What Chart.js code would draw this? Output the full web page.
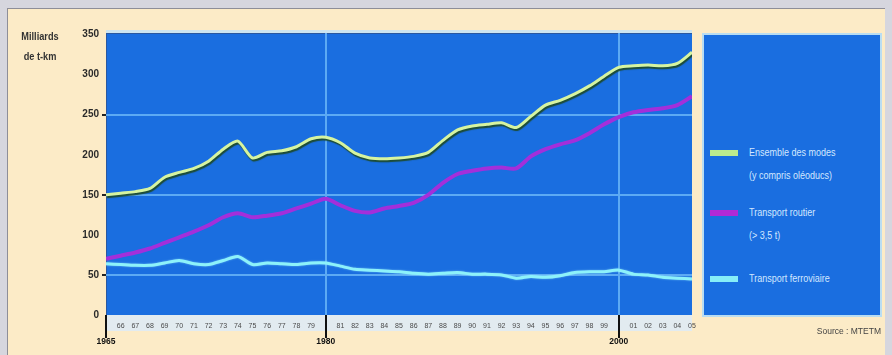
<!DOCTYPE html>
<html><head><meta charset="utf-8">
<script src="https://cdn.jsdelivr.net/npm/chart.js@4/dist/chart.umd.min.js"></script>
<style>
html,body{margin:0;padding:0;background:#D6D6DE;width:892px;height:355px;overflow:hidden;font-family:'Liberation Sans Narrow','Liberation Sans',Arial,sans-serif;}
#panel{position:absolute;left:7px;top:8px;width:877px;height:347px;background:#FCEBC7;border-left:1px solid #8E8E98;border-top:1px solid #8E8E98;}
#c{position:absolute;left:0;top:0;}
#ytitle{position:absolute;left:8px;top:27px;width:64px;text-align:center;font-size:10px;font-weight:bold;color:#333;line-height:20px;transform:scaleX(0.92);}
#legend{position:absolute;left:702px;top:33px;width:176px;height:280px;background:#1A6EE0;border:2px solid #B9DDF2;}
.sw{position:absolute;left:6px;width:28px;height:6px;}
.tx{position:absolute;left:45px;font-size:10px;line-height:23px;color:#D2E8FF;white-space:nowrap;transform:scaleX(0.9);transform-origin:left center;}
#source{position:absolute;left:740px;top:326px;width:141px;text-align:right;font-size:8.5px;color:#444;}
</style></head>
<body>
<div id="panel"></div>
<canvas id="c" width="892" height="355"></canvas>
<div id="ytitle">Milliards<br>de t-km</div>
<div id="legend">
  <div class="sw" style="top:115px;background:#BCEB8E;"></div>
  <div class="tx" style="top:106px;">Ensemble des modes<br>(y compris oléoducs)</div>
  <div class="sw" style="top:175px;background:#B02AD6;"></div>
  <div class="tx" style="top:166px;">Transport routier<br>(&gt; 3,5 t)</div>
  <div class="sw" style="top:241px;background:#86EEF8;"></div>
  <div class="tx" style="top:232px;">Transport ferroviaire</div>
</div>
<div id="source">Source : MTETM</div>
<script>
const years = [1965,1966,1967,1968,1969,1970,1971,1972,1973,1974,1975,1976,1977,1978,1979,1980,1981,1982,1983,1984,1985,1986,1987,1988,1989,1990,1991,1992,1993,1994,1995,1996,1997,1998,1999,2000,2001,2002,2003,2004,2005];
const totalValues = [150,152,154,158,172,178,183,192,207,217,196,203,205,210,220,222,215,202,196,195,196,198,203,218,231,236,238,240,234,248,262,268,276,286,298,309,311,312,311,314,328];
const roadValues = [70,74,78,83,90,97,104,112,122,127,122,124,127,133,139,145,137,130,128,133,136,140,150,165,176,180,183,184,183,198,207,213,218,227,238,247,253,256,258,262,273];
const railValues = [64,63,62,62,65,68,64,63,68,73,63,65,64,63,65,65,61,57,56,55,54,52,51,52,53,51,51,50,46,48,47,49,53,54,54,56,51,50,47,46,45];
const seriesNames = ['Ensemble des modes (y compris oléoducs)','Transport routier (> 3,5 t)','Transport ferroviaire'];
const yTicks = [0,50,100,150,200,250,300,350];
const yGridTicks = [50,150,250];
const majorTickYears = [1965,1980,2000];
const xGridYears = [1980,2000];

const BLUE = '#1A6EE0';
const GRID = '#5CAAF4';

const bgPlugin = {
  id: 'bg',
  beforeDraw(chart) {
    const {ctx, chartArea: a} = chart;
    ctx.save();
    ctx.fillStyle = '#CDE5F1';
    ctx.fillRect(a.left, a.top - 3, a.right - a.left, 3);
    ctx.fillStyle = BLUE;
    ctx.fillRect(a.left, a.top, a.right - a.left, a.bottom - a.top);
    ctx.fillStyle = '#2A58A0';
    ctx.fillRect(a.left, a.top, a.right - a.left, 1);
    ctx.fillRect(a.left, a.top, 1, a.bottom - a.top);
    ctx.fillStyle = '#E2EBF0';
    ctx.fillRect(a.left, a.bottom, a.right - a.left, 16);
    ctx.restore();
  },
  afterDraw(chart) {
    const {ctx, chartArea: a} = chart;
    const xs = chart.scales.x;
    ctx.save();
    ctx.fillStyle = '#111';
    majorTickYears.forEach(v => {
      const px = Math.round(xs.getPixelForValue(v));
      ctx.fillRect(px - 1, a.bottom, 2, 23);
    });
    ctx.restore();
  },
  beforeDatasetDraw(chart, args) {
    const ctx = chart.ctx;
    ctx.save();
    if (args.index === 0) {
      ctx.shadowColor = 'rgba(30,75,45,0.95)';
      ctx.shadowOffsetX = 1;
      ctx.shadowOffsetY = 2;
      ctx.shadowBlur = 1;
    } else if (args.index === 2) {
      ctx.shadowColor = 'rgba(160,240,255,0.6)';
      ctx.shadowBlur = 2;
    }
  },
  afterDatasetDraw(chart) {
    chart.ctx.restore();
  }
};

const toPts = vals => vals.map((v, i) => ({x: years[i], y: v}));

new Chart(document.getElementById('c'), {
  type: 'line',
  data: {
    datasets: [
      {label: seriesNames[0], data: toPts(totalValues), borderColor: '#D6F4A0', borderWidth: 3, pointRadius: 0, tension: 0.25},
      {label: seriesNames[1], data: toPts(roadValues), borderColor: '#A32FDA', borderWidth: 4, pointRadius: 0, tension: 0.25},
      {label: seriesNames[2], data: toPts(railValues), borderColor: '#8DF2FA', borderWidth: 3, pointRadius: 0, tension: 0.25}
    ]
  },
  options: {
    responsive: false,
    animation: false,
    devicePixelRatio: 1,
    layout: {padding: {left: 0, right: 200, top: 33, bottom: 0}},
    plugins: {legend: {display: false}, tooltip: {enabled: false}, title: {display: false}},
    scales: {
      y: {
        type: 'linear', min: 0, max: 352,
        afterBuildTicks: s => { s.ticks = yTicks.map(v => ({value: v})); },
        afterFit: s => { s.width = 106; },
        border: {display: false},
        grid: {
          drawOnChartArea: true, drawTicks: true, tickLength: 4,
          color: c => (c.tick && yGridTicks.includes(c.tick.value)) ? GRID : 'rgba(0,0,0,0)',
          tickColor: c => (c.tick && yGridTicks.includes(c.tick.value)) ? '#222' : 'rgba(0,0,0,0)',
          lineWidth: 2, tickWidth: 2
        },
        ticks: {
          padding: 3, color: '#2A2A2A',
          font: {family: "'Liberation Sans Narrow','Liberation Sans',Arial", size: 10, weight: 'bold'},
          callback: v => String(v)
        }
      },
      x: {
        type: 'linear', min: 1965, max: 2005, position: 'bottom', weight: 0,
        afterBuildTicks: s => { s.ticks = years.map(v => ({value: v})); },
        afterFit: s => { s.height = 20; },
        border: {display: false},
        grid: {
          drawOnChartArea: true, drawTicks: false,
          color: c => (c.tick && xGridYears.includes(c.tick.value)) ? GRID : 'rgba(0,0,0,0)',
          lineWidth: 2
        },
        ticks: {
          autoSkip: false, maxRotation: 0, minRotation: 0, padding: 7, color: '#4A4A4A',
          font: {family: "'Liberation Sans Narrow','Liberation Sans',Arial", size: 7},
          callback: v => majorTickYears.includes(v) ? '' : String(v).slice(2)
        }
      },
      x2: {
        type: 'linear', min: 1965, max: 2005, position: 'bottom', weight: 1,
        afterBuildTicks: s => { s.ticks = majorTickYears.map(v => ({value: v})); },
        afterFit: s => { s.height = 20; },
        border: {display: false},
        grid: {display: false, drawTicks: false},
        ticks: {
          autoSkip: false, maxRotation: 0, minRotation: 0, padding: 2, color: '#111',
          font: {family: "'Liberation Sans Narrow','Liberation Sans',Arial", size: 8.5, weight: 'bold'},
          callback: v => String(v)
        }
      }
    }
  },
  plugins: [bgPlugin]
});
</script>
</body></html>
